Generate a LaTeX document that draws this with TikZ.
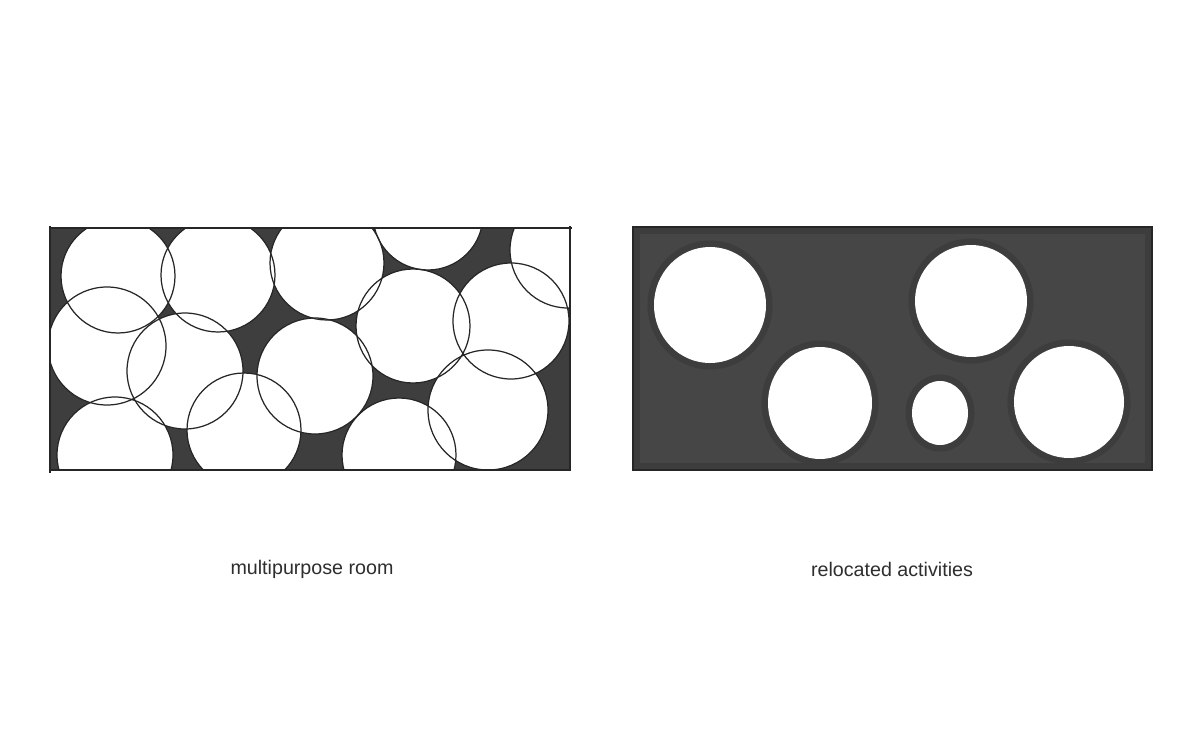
\documentclass[tikz,border=0pt]{standalone}
\usepackage{fontspec}
\setmainfont{Liberation Sans}
\definecolor{markL}{HTML}{3E3E3E}
\definecolor{markR}{HTML}{464646}
\definecolor{markRing}{HTML}{3D3D3D}
\definecolor{ink}{HTML}{262626}
\definecolor{labelc}{HTML}{2E2E2E}
\tikzset{
  penline/.style={draw=ink, line width=0.7pt},
  roomframe/.style={draw=ink, line width=0.75pt},
  caption/.style={font=\fontsize{11.2}{13}\selectfont, text=labelc, inner sep=0pt},
}
\begin{document}
\begin{tikzpicture}[x=0.02cm, y=-0.02cm]
\useasboundingbox (0,0) rectangle (1200,750);
\fill[white] (0,0) rectangle (1200,750);
% ---------- left panel: multipurpose room ----------
\begin{scope}
  \clip (50,228) rectangle (570,470);
  \fill[markL] (50,228) rectangle (570,470);
  \foreach \cx/\cy/\r in {118/276/57, 218/275/57, 327/263/57, 428/215/55, 568/250/58,
                          107/346/59, 185/371/58, 244/430/57, 315/376/58, 115/455/58,
                          413/326/57, 511/321/58, 488/410/60, 399/455/57}
    \fill[white] (\cx,\cy) circle [radius=\r];
  \foreach \cx/\cy/\r in {118/276/57, 218/275/57, 327/263/57, 428/215/55, 568/250/58,
                          107/346/59, 185/371/58, 244/430/57, 315/376/58, 115/455/58,
                          413/326/57, 511/321/58, 488/410/60, 399/455/57}
    \draw[penline] (\cx,\cy) circle [radius=\r];
\end{scope}
\draw[roomframe] (50,228) -- (572,228);
\draw[roomframe] (50,226) -- (50,473);
\draw[roomframe] (49,470) -- (571,470);
\draw[roomframe] (570,226) -- (570,471);
% ---------- right panel: relocated activities ----------
\fill[markR] (633,227) rectangle (1152,470);
\draw[markRing, line width=3pt] (637,231) rectangle (1148,466);
\foreach \cx/\cy/\rx/\ry in {710/305/56/58, 971/301/56/56, 820/403/52/56, 940/413/28/32, 1069/402/55/56}
  \draw[markRing, line width=4pt] (\cx,\cy) ellipse [x radius=\rx+3, y radius=\ry+3];
\foreach \cx/\cy/\rx/\ry in {710/305/56/58, 971/301/56/56, 820/403/52/56, 940/413/28/32, 1069/402/55/56}
  \fill[white] (\cx,\cy) ellipse [x radius=\rx, y radius=\ry];
\draw[draw=ink, line width=0.6pt] (633,227) rectangle (1152,470);
% ---------- captions ----------
\node[caption] (capL) at (312,569) {multipurpose room};
\node[caption] (capR) at (892,569) {relocated activities};
\end{tikzpicture}
\end{document}
